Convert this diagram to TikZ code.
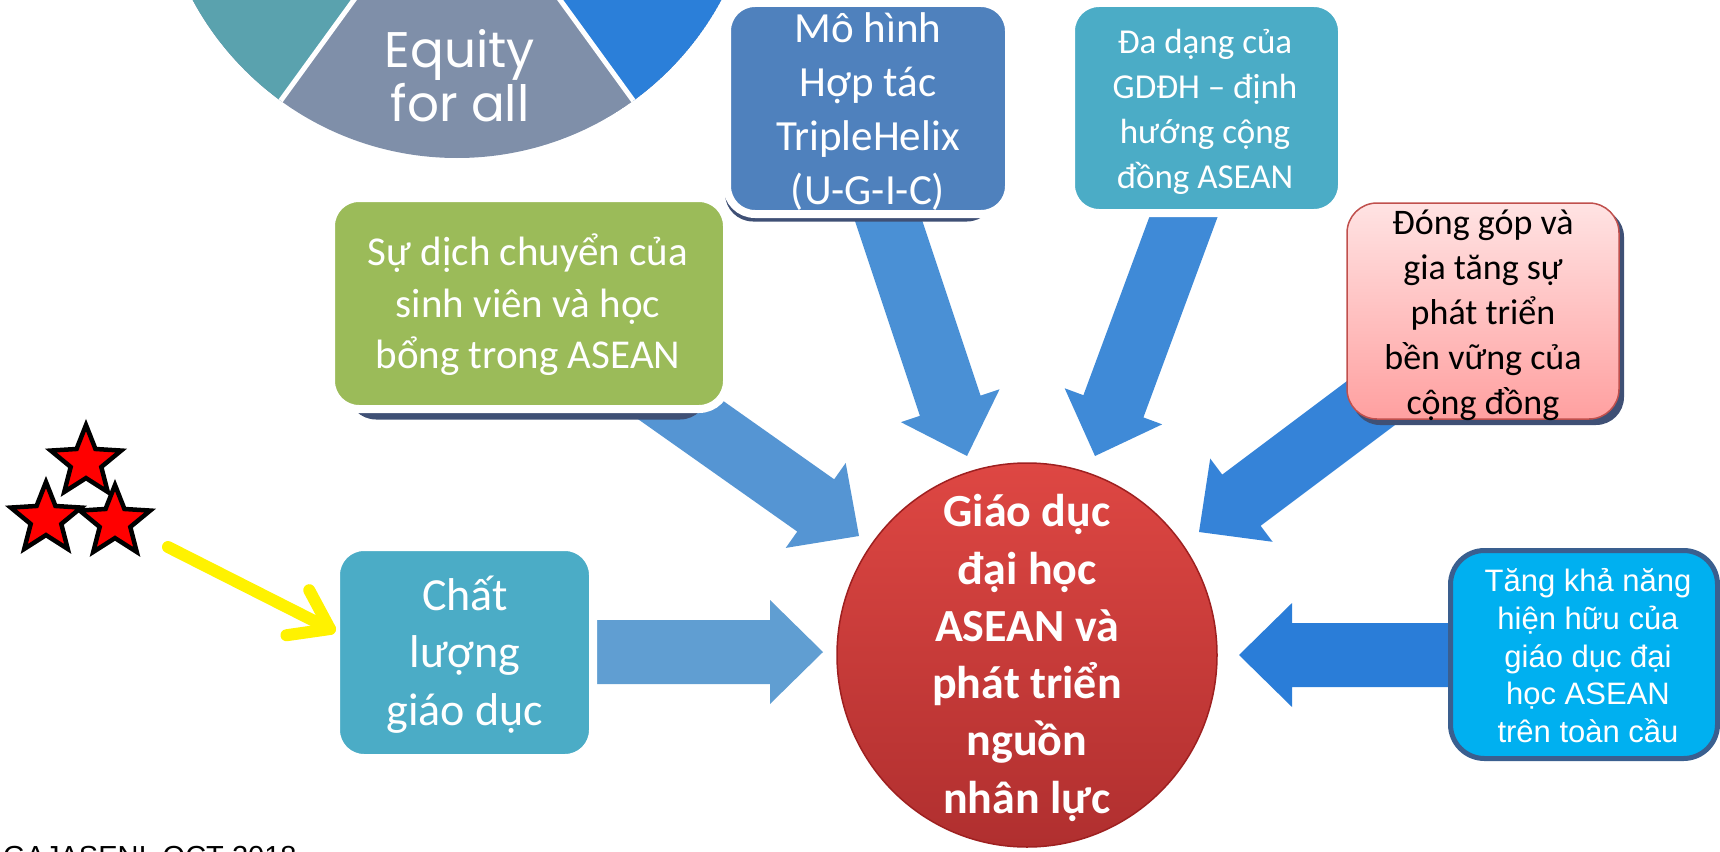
\documentclass[tikz,border=0pt]{standalone}
\usepackage{fontspec}
\usetikzlibrary{calc,shapes.geometric,shadows}
\newfontfamily\calfont{Carlito}
\newfontfamily\arlfont{Liberation Sans}
\newfontfamily\popfont{Poppins}
\definecolor{pieteal}{HTML}{5AA2AE}
\definecolor{piegrey}{HTML}{7F8FA9}
\definecolor{pieblue}{HTML}{2B7FD9}
\definecolor{mhfill}{HTML}{4F81BD}
\definecolor{ddfill}{HTML}{4BACC6}
\definecolor{sdfill}{HTML}{9BBB59}
\definecolor{tkfill}{HTML}{00B0F0}
\definecolor{tkline}{HTML}{3A5F8F}
\definecolor{pinkline}{HTML}{C0504D}
\definecolor{pinktop}{HTML}{FFE3E3}
\definecolor{pinkbot}{HTML}{FFA0A0}
\definecolor{darkshadow}{HTML}{3F5075}
\definecolor{redtop}{HTML}{DE4743}
\definecolor{redbot}{HTML}{B02F2F}
\definecolor{redline}{HTML}{9E2020}
\definecolor{arA}{HTML}{609ED2}
\definecolor{arB}{HTML}{5595D3}
\definecolor{arC}{HTML}{4A90D5}
\definecolor{arD}{HTML}{3F8AD7}
\definecolor{arE}{HTML}{3583D8}
\definecolor{arF}{HTML}{2A7DD8}
\newcommand\blockarrow[3]{%
  \path ($(#3)!53pt!(#2)$) coordinate (bh);
  \fill[#1] ($(#2)!32pt!90:(#3)$) -- ($(bh)!32pt!90:(#3)$) -- ($(bh)!52pt!90:(#3)$) -- (#3)
     -- ($(bh)!52pt!-90:(#3)$) -- ($(bh)!32pt!-90:(#3)$) -- ($(#2)!32pt!-90:(#3)$) -- cycle;}
\tikzset{
  lbl/.style={anchor=base, inner sep=0, text=white},
  wbox/.style={rounded corners=28, draw=white, line width=8, inner sep=0,
     drop shadow={shadow xshift=1pt, shadow yshift=-3pt, opacity=0.15, fill=black}},
  shbox/.style={rounded corners=28, fill=darkshadow, inner sep=0},
  starshape/.style={star, star points=5, star point ratio=2.3, minimum size=74, inner sep=0,
     fill=red, draw=black, line width=4.5},
  yline/.style={draw=yellow, line width=12, line cap=round, line join=round},
}
\begin{document}
\begin{tikzpicture}[x=1pt,y=-1pt]
\useasboundingbox (0,0) rectangle (1720,851);
\clip (0,0) rectangle (1720,851);
% pie
\coordinate (pc) at (457,-142);
\begin{scope}
  \clip (pc) circle[radius=300];
  \fill[piegrey] (pc) circle[radius=300];
  \fill[pieteal] (pc) -- ($(pc)+(126:700)$) -- ($(pc)+(198:700)$) -- cycle;
  \fill[pieblue] (pc) -- ($(pc)+(54:700)$) -- ($(pc)+(-18:700)$) -- cycle;
  \draw[white, line width=5] ($(pc)+(126:700)$) -- (pc) -- ($(pc)+(54:700)$);
\end{scope}
\node[lbl, font=\popfont\fontsize{50}{50}\selectfont] (eq1) at (460,67) {Equity};
\node[lbl, font=\popfont\fontsize{50}{50}\selectfont] (eq2) at (460,121) {for all};
% arrows
\coordinate (aAs) at (480,652);  \coordinate (aAt) at (823,652);
\coordinate (aBs) at (614,363);  \coordinate (aBt) at (859,536);
\coordinate (aCs) at (872,171);  \coordinate (aCt) at (967,456);
\coordinate (aDs) at (1199,175); \coordinate (aDt) at (1095,456);
\coordinate (aEs) at (1423,364); \coordinate (aEt) at (1199,532);
\coordinate (aFs) at (1500,655); \coordinate (aFt) at (1239,655);
\blockarrow{arA}{aAs}{aAt}
\blockarrow{arB}{aBs}{aBt}
\blockarrow{arC}{aCs}{aCt}
\blockarrow{arD}{aDs}{aDt}
\blockarrow{arE}{aEs}{aEt}
\blockarrow{arF}{aFs}{aFt}
% shadows behind boxes
\node[shbox, minimum width=270, minimum height=211] (mhs) at (860,116) {};
\node[shbox, minimum width=360, minimum height=211] (sds) at (528,314) {};
\node[shbox, minimum width=272, minimum height=216] (dgs) at (1488,317) {};
% boxes
\node[wbox, fill=mhfill, minimum width=282, minimum height=211] (mh) at (868,108.5) {};
\node[wbox, fill=ddfill, minimum width=271, minimum height=210] (dd) at (1206.5,108) {};
\node[wbox, fill=sdfill, minimum width=396, minimum height=211] (sd) at (529,303.5) {};
\node[wbox, fill=ddfill, minimum width=257, minimum height=211] (cl) at (464.5,652.5) {};
\node[rounded corners=30, draw=pinkline, line width=1.5, top color=pinktop, bottom color=pinkbot,
      minimum width=272, minimum height=216, inner sep=0] (dg) at (1483,311) {};
\node[rounded corners=34, draw=tkline, line width=5, fill=tkfill,
      minimum width=267, minimum height=208, inner sep=0] (tk) at (1584,654.5) {};
% centre
\node[ellipse, draw=redline, line width=1.5, top color=redtop, bottom color=redbot,
      minimum width=380, minimum height=384, inner sep=0] (gd) at (1027,655) {};
% texts
\begin{scope}[every node/.append style={lbl}]
\node[font=\calfont\fontsize{43}{43}\selectfont] (mh1) at (868,42) {Mô hình};
\node[font=\calfont\fontsize{43}{43}\selectfont] (mh2) at (868,96) {Hợp tác};
\node[font=\calfont\fontsize{43}{43}\selectfont] (mh3) at (868,150) {TripleHelix};
\node[font=\calfont\fontsize{43}{43}\selectfont] (mh4) at (868,204) {(U-G-I-C)};
\node[font=\calfont\fontsize{35}{35}\selectfont] (dd1) at (1205,53) {Đa dạng của};
\node[font=\calfont\fontsize{35}{35}\selectfont] (dd2) at (1205,98) {GDĐH – định};
\node[font=\calfont\fontsize{35}{35}\selectfont] (dd3) at (1205,143) {hướng cộng};
\node[font=\calfont\fontsize{35}{35}\selectfont] (dd4) at (1205,188) {đồng ASEAN};
\node[font=\calfont\fontsize{41}{41}\selectfont] (sd1) at (528,265) {Sự dịch chuyển của};
\node[font=\calfont\fontsize{41}{41}\selectfont] (sd2) at (528,317) {sinh viên và học};
\node[font=\calfont\fontsize{41}{41}\selectfont] (sd3) at (528,368) {bổng trong ASEAN};
\node[font=\calfont\fontsize{46}{46}\selectfont] (cl1) at (465,610) {Chất};
\node[font=\calfont\fontsize{46}{46}\selectfont] (cl2) at (465,667) {lượng};
\node[font=\calfont\fontsize{46}{46}\selectfont] (cl3) at (465,725) {giáo dục};
\node[font=\calfont\fontsize{36}{36}\selectfont, text=black] (dg1) at (1483,234) {Đóng góp và};
\node[font=\calfont\fontsize{36}{36}\selectfont, text=black] (dg2) at (1483,279) {gia tăng sự};
\node[font=\calfont\fontsize{36}{36}\selectfont, text=black] (dg3) at (1483,324) {phát triển};
\node[font=\calfont\fontsize{36}{36}\selectfont, text=black] (dg4) at (1483,369) {bền vững của};
\node[font=\calfont\fontsize{36}{36}\selectfont, text=black] (dg5) at (1483,414) {cộng đồng};
\node[font=\arlfont\fontsize{31}{31}\selectfont] (tk1) at (1588,591) {Tăng khả năng};
\node[font=\arlfont\fontsize{31}{31}\selectfont] (tk2) at (1588,629) {hiện hữu của};
\node[font=\arlfont\fontsize{31}{31}\selectfont] (tk3) at (1588,667) {giáo dục đại};
\node[font=\arlfont\fontsize{31}{31}\selectfont] (tk4) at (1588,704) {học ASEAN};
\node[font=\arlfont\fontsize{31}{31}\selectfont] (tk5) at (1588,742) {trên toàn cầu};
\node[font=\calfont\bfseries\fontsize{46}{46}\selectfont] (gd1) at (1027,526) {Giáo dục};
\node[font=\calfont\bfseries\fontsize{46}{46}\selectfont] (gd2) at (1027,584) {đại học};
\node[font=\calfont\bfseries\fontsize{46}{46}\selectfont] (gd3) at (1027,641) {ASEAN và};
\node[font=\calfont\bfseries\fontsize{46}{46}\selectfont] (gd4) at (1027,698) {phát triển};
\node[font=\calfont\bfseries\fontsize{46}{46}\selectfont] (gd5) at (1027,755) {nguồn};
\node[font=\calfont\bfseries\fontsize{46}{46}\selectfont] (gd6) at (1027,813) {nhân lực};
\end{scope}
% stars and yellow arrow
\node[starshape] (st1) at (86,462) {};
\node[starshape] (st2) at (46,519) {};
\node[starshape] (st3) at (115,522) {};
\coordinate (ya) at (168,547);
\coordinate (yb) at (330,629);
\draw[yline] (ya) -- (yb);
\draw[yline] ($(yb)!44pt!35:(ya)$) -- (yb) -- ($(yb)!44pt!-35:(ya)$);
% footer
\node[anchor=base west, inner sep=0, font=\arlfont\fontsize{29}{29}\selectfont] (foot) at (3,866) {GAJASENI, OCT 2018};
\end{tikzpicture}
\end{document}
